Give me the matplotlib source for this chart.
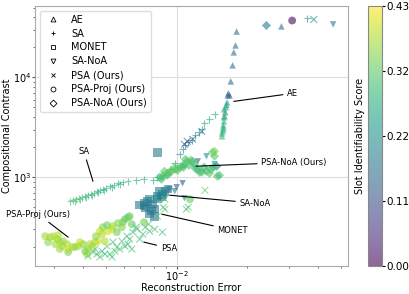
import numpy as np
import matplotlib
matplotlib.use("Agg")
import matplotlib.pyplot as plt
from matplotlib.lines import Line2D

# Data (reconstruction error, compositional contrast, slot identifiability score)
ae_err = [0.0180, 0.0178, 0.0175, 0.0173, 0.0170, 0.0166, 0.0165, 0.0168, 0.0279,
          0.0164, 0.0162, 0.0161, 0.0159, 0.0159, 0.0158, 0.0158, 0.0156, 0.0156, 0.0159,
          0.0160, 0.0158, 0.0157, 0.0163]
ae_cc = [28800, 20900, 17800, 13200, 9120, 6920, 6610, 6610, 32400,
         5630, 5020, 4470, 3990, 3630, 3310, 3020, 2750, 2570, 4790,
         4100, 3150, 2880, 5300]
ae_score = [0.16, 0.16, 0.16, 0.16, 0.15, 0.14, 0.13, 0.12, 0.16,
            0.24, 0.26, 0.20, 0.26, 0.27, 0.27, 0.28, 0.28, 0.29, 0.27,
            0.27, 0.28, 0.29, 0.25]

sa_err = [0.00352, 0.00362, 0.00373, 0.00384, 0.00396, 0.00408, 0.00420, 0.00432, 0.00446,
          0.00459, 0.00472, 0.00486, 0.00501, 0.00520, 0.00541, 0.00563, 0.00591, 0.00621,
          0.00673, 0.00726, 0.00796, 0.00828, 0.00878, 0.00934, 0.00982, 0.0103, 0.0106,
          0.0109, 0.0112, 0.0116, 0.0120, 0.0124, 0.0128, 0.0131, 0.0138, 0.0145, 0.0359,
          0.00369, 0.00388, 0.00412, 0.00437, 0.00464, 0.00491, 0.00531, 0.00573]
sa_cc = [576, 589, 603, 617, 631, 646, 661, 676, 692,
         724, 741, 759, 776, 813, 832, 871, 891, 912,
         933, 955, 933, 1000, 1047, 1200, 1380, 1700, 1905,
         2090, 2240, 2340, 2630, 2820, 3020, 3470, 3800, 4270, 38900,
         576, 603, 631, 661, 708, 741, 794, 851]
sa_score = [0.30, 0.30, 0.30, 0.30, 0.29, 0.29, 0.29, 0.28, 0.28,
            0.28, 0.28, 0.27, 0.27, 0.27, 0.27, 0.26, 0.26, 0.26,
            0.26, 0.25, 0.25, 0.24, 0.24, 0.23, 0.22, 0.20, 0.18,
            0.17, 0.17, 0.17, 0.20, 0.22, 0.23, 0.24, 0.25, 0.25, 0.20,
            0.31, 0.30, 0.29, 0.29, 0.28, 0.28, 0.27, 0.27]

monet_err = [0.00830, 0.00697, 0.00726, 0.00753, 0.00791, 0.00807, 0.00807, 0.00824,
             0.00847, 0.00891, 0.00918, 0.00768, 0.00732, 0.00784, 0.00864,
             0.00739, 0.00768, 0.00831, 0.00870]
monet_cc = [1780, 525, 513, 575, 537, 479, 407, 646,
            724, 724, 759, 603, 550, 457, 631,
            490, 427, 603, 676]
monet_score = [0.18, 0.17, 0.17, 0.18, 0.18, 0.17, 0.16, 0.19,
               0.19, 0.18, 0.17, 0.19, 0.18, 0.17, 0.19,
               0.17, 0.18, 0.19, 0.18]

sanoa_err = [0.0123, 0.0134, 0.0145, 0.0106, 0.0100, 0.00934, 0.00982, 0.00891, 0.0108, 0.0463]
sanoa_cc = [1440, 1620, 1350, 871, 794, 759, 724, 676, 617, 33900]
sanoa_score = [0.12, 0.20, 0.22, 0.12, 0.14, 0.17, 0.18, 0.20, 0.20, 0.18]

psa_err = [0.00420, 0.00441, 0.00459, 0.00482, 0.00506, 0.00536, 0.00557, 0.00585, 0.00615,
           0.00652, 0.00678, 0.00735, 0.00828, 0.00891, 0.00870, 0.00673, 0.00697, 0.00520,
           0.00573, 0.00621, 0.00768, 0.00472, 0.00891, 0.00878, 0.0112, 0.0132, 0.0110,
           0.0108, 0.0111, 0.0117, 0.0128, 0.0383,
           0.00450, 0.00496, 0.00547, 0.00603, 0.00632, 0.00719, 0.00760, 0.00807,
           0.00531, 0.00645]
psa_cc = [163, 178, 170, 182, 204, 224, 200, 229, 257,
          282, 302, 316, 407, 479, 282, 316, 240, 170,
          191, 214, 288, 159, 603, 501, 501, 741, 479,
          2140, 2290, 2400, 2880, 38000,
          191, 170, 182, 204, 240, 269, 339, 302,
          159, 191]
psa_score = [0.30, 0.31, 0.29, 0.30, 0.31, 0.29, 0.30, 0.31, 0.30,
             0.29, 0.31, 0.30, 0.31, 0.32, 0.30, 0.28, 0.29, 0.30,
             0.31, 0.29, 0.30, 0.31, 0.30, 0.31, 0.31, 0.32, 0.31,
             0.12, 0.12, 0.13, 0.14, 0.20,
             0.30, 0.29, 0.31, 0.28, 0.30, 0.29, 0.31, 0.30,
             0.30, 0.29]

proj_err = [0.00290, 0.00299, 0.00311, 0.00305, 0.00319, 0.00329, 0.00342, 0.00346, 0.00360,
            0.00370, 0.00381, 0.00400, 0.00420, 0.00437, 0.00450, 0.00472, 0.00482, 0.00486,
            0.00511, 0.00531, 0.00536, 0.00557, 0.00585, 0.00591, 0.00621, 0.00632, 0.00463,
            0.00495, 0.00346, 0.00416, 0.00645, 0.00726, 0.0114, 0.0310,
            0.00276, 0.00284, 0.00314, 0.00326, 0.00388, 0.00408, 0.00428, 0.00454,
            0.00506, 0.00563, 0.00603, 0.00319]
proj_cc = [251, 257, 240, 214, 224, 229, 214, 191, 200,
           200, 204, 214, 191, 204, 224, 288, 269, 316,
           288, 302, 324, 282, 316, 355, 398, 407, 229,
           229, 178, 170, 339, 355, 603, 37100,
           257, 224, 263, 204, 224, 182, 214, 257,
           331, 347, 380, 191]
proj_score = [0.37, 0.38, 0.36, 0.37, 0.38, 0.36, 0.37, 0.42, 0.38,
              0.36, 0.37, 0.35, 0.36, 0.37, 0.36, 0.40, 0.38, 0.35,
              0.39, 0.41, 0.37, 0.34, 0.35, 0.34, 0.33, 0.34, 0.40,
              0.38, 0.35, 0.36, 0.33, 0.34, 0.33, 0.01,
              0.37, 0.36, 0.38, 0.37, 0.39, 0.35, 0.38, 0.36,
              0.34, 0.35, 0.33, 0.37]

noa_err = [0.00847, 0.00870, 0.00906, 0.00934, 0.00953, 0.00991, 0.0103, 0.0105, 0.0108,
           0.0111, 0.0115, 0.0117, 0.0119, 0.0123, 0.0125, 0.0128, 0.0134, 0.0140,
           0.0142, 0.0145, 0.0152, 0.0149, 0.0145, 0.0148, 0.0131, 0.00888, 0.00982,
           0.0109, 0.0241,
           0.00862, 0.00915, 0.0101, 0.0107, 0.0113, 0.0120, 0.0138, 0.0143]
noa_cc = [1000, 1023, 1072, 1122, 1148, 1200, 1259, 1288, 1350,
          1445, 1480, 1445, 1350, 1200, 1122, 1122, 1148, 1200,
          1778, 1622, 1047, 1023, 1820, 1288, 1259, 1148, 1259,
          1510, 33100,
          955, 1047, 1175, 1259, 1318, 1230, 1096, 1259]
noa_score = [0.31, 0.32, 0.31, 0.33, 0.32, 0.31, 0.33, 0.32, 0.31,
             0.33, 0.32, 0.30, 0.31, 0.32, 0.31, 0.30, 0.31, 0.30,
             0.33, 0.32, 0.30, 0.31, 0.34, 0.22, 0.29, 0.32, 0.33,
             0.31, 0.18,
             0.30, 0.31, 0.32, 0.30, 0.31, 0.29, 0.32, 0.30]

series = [
    ("AE", "^", ae_err, ae_cc, ae_score),
    ("SA", "+", sa_err, sa_cc, sa_score),
    ("MONET", "s", monet_err, monet_cc, monet_score),
    ("SA-NoA", "v", sanoa_err, sanoa_cc, sanoa_score),
    ("PSA (Ours)", "x", psa_err, psa_cc, psa_score),
    ("PSA-Proj (Ours)", "o", proj_err, proj_cc, proj_score),
    ("PSA-NoA (Ours)", "D", noa_err, noa_cc, noa_score),
]

# annotations: label, point, text position, alignment
notes = [
    ("AE", (0.0175, 5750), (0.0295, 6920), "left"),
    ("SA", (0.00441, 912), (0.00403, 1820), "center"),
    ("PSA-NoA (Ours)", (0.0121, 1290), (0.0229, 1413), "left"),
    ("SA-NoA", (0.00934, 661), (0.0185, 550), "left"),
    ("MONET", (0.00864, 427), (0.0149, 295), "left"),
    ("PSA", (0.00726, 224), (0.00856, 195), "left"),
    ("PSA-Proj (Ours)", (0.00346, 251), (0.00258, 427), "center"),
]

vmin, vmax = 0.0, 0.432
sizes = {"^": 22, "+": 24, "s": 38, "v": 22, "x": 24, "o": 32, "D": 22}

fig = plt.figure(figsize=(4.09, 2.94), dpi=100)
ax = fig.add_axes([0.0856, 0.095, 0.765, 0.885])
cax = fig.add_axes([0.900, 0.095, 0.034, 0.885])

for name, m, xs, ys, cs in series:
    sc = ax.scatter(xs, ys, c=cs, cmap="viridis", vmin=vmin, vmax=vmax,
                    marker=m, s=sizes[m], alpha=0.6, linewidths=0.8 if m in "+x" else 0)

ax.set_xscale("log")
ax.set_yscale("log")
ax.set_xlim(0.0025, 0.0535)
ax.set_ylim(129, 52000)
ax.grid(True, which="major", color="#dddddd", lw=0.8)
ax.set_axisbelow(True)
for sp in ax.spines.values():
    sp.set_color("#aaaaaa")
ax.tick_params(which="major", length=2, pad=0.5, labelsize=7, colors="#555555",
               labelcolor="black")
ax.tick_params(which="minor", length=1.5, colors="#555555")
ax.set_xlabel("Reconstruction Error", fontsize=7, labelpad=0)
ax.set_ylabel("Compositional Contrast", fontsize=7, labelpad=1)

for label, pt, txt, ha in notes:
    ax.annotate(label, xy=pt, xytext=txt, fontsize=6, ha=ha, va="center",
                arrowprops=dict(arrowstyle="-", color="black", lw=0.8,
                                shrinkA=1, shrinkB=0),
                annotation_clip=False)

handles = [Line2D([], [], ls="none", marker=m, color="black", mfc="white",
                  mec="black", ms=3.5, mew=0.6) for _, m, _, _, _ in series]
ax.legend(handles, [s[0] for s in series], loc="upper left", fontsize=7,
          labelspacing=0.4, framealpha=1, edgecolor="#dddddd")

cb = fig.colorbar(sc, cax=cax)
cb.solids.set_alpha(0.6)
cb.set_ticks(np.linspace(vmin, vmax, 5))
cb.ax.yaxis.set_major_formatter(matplotlib.ticker.FormatStrFormatter("%.2f"))
cb.ax.tick_params(labelsize=7.5, length=2, pad=1)
cb.outline.set_edgecolor("#888888")
cb.set_label("Slot Identifiability Score", fontsize=7, labelpad=2)
cb.ax.yaxis.set_label_position("left")

fig.savefig("out.png", dpi=100)
